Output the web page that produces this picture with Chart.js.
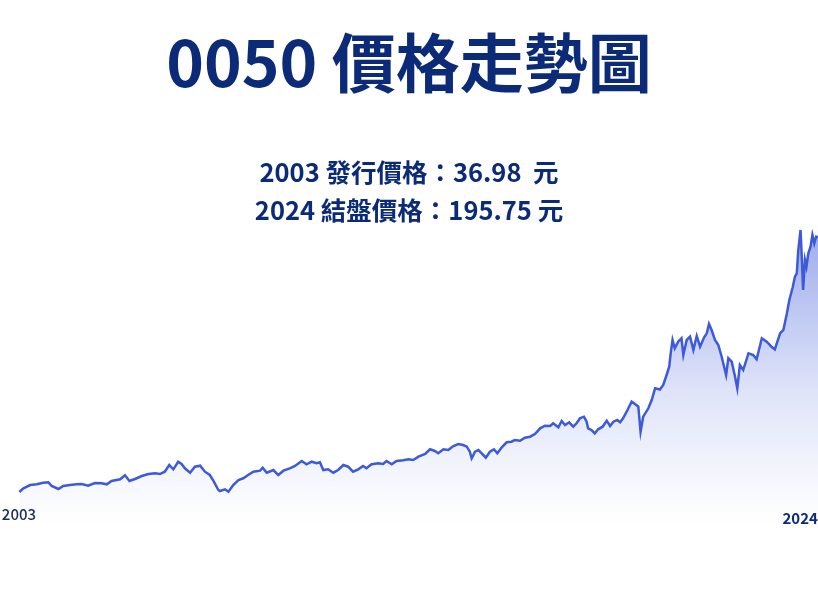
<!DOCTYPE html>
<html>
<meta charset="UTF-8">
<head>
    <title>0050 價格走勢圖</title>
    <script src="https://cdn.jsdelivr.net/npm/chart.js"></script>
    <style>
        html, body { margin: 0; padding: 0; background: #ffffff; }
        #wrap { width: 818px; height: 600px; }
    </style>
</head>
<body>
<div id="wrap"><canvas id="priceChart"></canvas></div>

<script>
    // 年份位置（小數年）與收盤價
    var years = [
        2003.01, 2003.12, 2003.30, 2003.48, 2003.65, 2003.79, 2003.88, 2004.06, 2004.19, 2004.37,
        2004.55, 2004.69, 2004.86, 2005.04, 2005.22, 2005.36, 2005.49, 2005.72, 2005.85, 2005.97,
        2006.12, 2006.30, 2006.48, 2006.66, 2006.79, 2006.92, 2007.04, 2007.15, 2007.28, 2007.37,
        2007.46, 2007.60, 2007.73, 2007.87, 2008.00, 2008.13, 2008.24, 2008.36, 2008.40, 2008.54,
        2008.63, 2008.76, 2008.90, 2009.03, 2009.16, 2009.30, 2009.48, 2009.55, 2009.66, 2009.84,
        2009.97, 2010.11, 2010.28, 2010.42, 2010.60, 2010.73, 2010.87, 2011.00, 2011.09, 2011.18,
        2011.31, 2011.45, 2011.58, 2011.72, 2011.85, 2011.98, 2012.12, 2012.25, 2012.34, 2012.48,
        2012.66, 2012.79, 2012.88, 2013.02, 2013.15, 2013.33, 2013.47, 2013.60, 2013.74, 2013.92,
        2014.05, 2014.18, 2014.27, 2014.41, 2014.54, 2014.68, 2014.81, 2014.94, 2015.04, 2015.12,
        2015.17, 2015.26, 2015.35, 2015.44, 2015.55, 2015.66, 2015.77, 2015.86, 2015.98, 2016.11,
        2016.24, 2016.33, 2016.47, 2016.60, 2016.74, 2016.87, 2017.01, 2017.14, 2017.28, 2017.36,
        2017.50, 2017.59, 2017.68, 2017.79, 2017.90, 2017.99, 2018.08, 2018.19, 2018.26, 2018.30,
        2018.39, 2018.48, 2018.57, 2018.69, 2018.80, 2018.89, 2018.98, 2019.08, 2019.16, 2019.24,
        2019.35, 2019.47, 2019.56, 2019.65, 2019.71, 2019.78, 2019.92, 2020.01, 2020.10, 2020.23,
        2020.32, 2020.41, 2020.48, 2020.52, 2020.57, 2020.63, 2020.72, 2020.81, 2020.86, 2020.95,
        2021.04, 2021.13, 2021.22, 2021.31, 2021.42, 2021.49, 2021.55, 2021.62, 2021.71, 2021.80,
        2021.89, 2022.01, 2022.07, 2022.16, 2022.25, 2022.31, 2022.38, 2022.47, 2022.61, 2022.74,
        2022.83, 2022.97, 2023.10, 2023.23, 2023.32, 2023.46, 2023.55, 2023.64, 2023.71, 2023.80,
        2023.86, 2023.91, 2023.95, 2024.01, 2024.04, 2024.08, 2024.13, 2024.17, 2024.22, 2024.28,
        2024.33, 2024.38, 2024.43, 2024.48
    ];
    var prices = [
        36.98, 39.29, 41.34, 41.78, 42.78, 43.03, 40.72, 38.85, 40.72, 41.34,
        41.78, 41.97, 40.91, 42.59, 42.40, 41.78, 43.84, 44.89, 47.38, 43.84,
        45.08, 46.95, 48.19, 48.63, 48.19, 49.63, 53.80, 51.12, 55.85, 54.42,
        51.74, 49.00, 52.74, 53.36, 49.63, 47.57, 43.40, 38.23, 37.61, 38.67,
        37.17, 41.34, 44.46, 45.52, 47.57, 49.63, 50.25, 52.12, 49.00, 50.68,
        47.57, 50.25, 51.74, 53.18, 56.29, 54.23, 55.85, 54.86, 55.48, 50.68,
        51.12, 49.00, 50.68, 53.80, 52.74, 49.63, 51.12, 53.18, 51.74, 54.23,
        54.86, 54.42, 56.29, 54.23, 56.29, 56.80, 57.35, 56.91, 58.97, 60.65,
        63.57, 62.52, 61.08, 63.57, 63.14, 65.63, 66.87, 66.25, 65.19, 62.08,
        57.97, 62.08, 63.14, 61.08, 58.34, 62.08, 63.57, 61.08, 64.82, 67.93,
        68.31, 69.36, 68.93, 70.80, 71.42, 73.10, 76.65, 78.27, 78.08, 79.76,
        77.27, 81.20, 78.70, 80.39, 77.65, 79.76, 82.88, 83.87, 80.76, 76.65,
        75.59, 73.54, 76.03, 77.65, 81.38, 78.08, 80.76, 81.82, 80.39, 82.88,
        87.61, 93.21, 91.78, 90.10, 74.53, 83.87, 89.10, 94.27, 101.56, 100.80,
        103.61, 109.84, 115.00, 123.35, 131.63, 126.46, 130.57, 132.69, 122.29, 131.63,
        133.69, 125.40, 134.20, 127.46, 133.31, 135.80, 141.59, 137.86, 131.63, 128.52,
        121.23, 109.84, 120.24, 118.12, 108.78, 101.56, 116.06, 112.95, 123.35, 122.29,
        119.61, 132.69, 130.57, 127.46, 125.84, 135.80, 137.86, 147.82, 156.54, 164.45,
        171.05, 173.16, 187.67, 200.12, 185.62, 162.76, 181.44, 177.27, 185.62, 189.73,
        197.01, 191.84, 195.95, 195.75
    ];
    var tickYears = [2003, 2024];

    var titleText = '0050 價格走勢圖';
    var subtitleLines = ['2003 發行價格：36.98  元', '2024 結盤價格：195.75 元'];

    var navy = '#0b2a78';
    var lineBlue = '#3d5ad8';
    var fontFamily = "'Noto Sans CJK TC', 'Noto Sans', sans-serif";

    var points = years.map(function (y, i) { return { x: y, y: prices[i] }; });

    // 由上而下漸層填色
    function areaGradient(context) {
        var chart = context.chart;
        var area = chart.chartArea;
        if (!area) return 'rgba(61,90,216,0.2)';
        var g = chart.ctx.createLinearGradient(0, area.top, 0, area.bottom);
        g.addColorStop(0, 'rgba(61,90,216,0.50)');
        g.addColorStop(0.5, 'rgba(61,90,216,0.17)');
        g.addColorStop(0.8, 'rgba(61,90,216,0.04)');
        g.addColorStop(0.92, 'rgba(61,90,216,0)');
        return g;
    }

    var ctx = document.getElementById('priceChart').getContext('2d');
    var chart = new Chart(ctx, {
        type: 'line',
        data: {
            datasets: [{
                label: '0050',
                data: points,
                borderColor: lineBlue,
                borderWidth: 2.5,
                pointRadius: 0,
                tension: 0,
                fill: 'origin',
                backgroundColor: areaGradient
            }]
        },
        options: {
            responsive: true,
            maintainAspectRatio: false,
            animation: false,
            layout: { padding: { left: 0, right: 0, top: 0, bottom: 48.6 } },
            plugins: {
                legend: { display: false },
                tooltip: { enabled: false },
                title: {
                    display: true,
                    text: titleText,
                    color: navy,
                    font: { family: fontFamily, size: 64, weight: 'bold', lineHeight: 1.2 },
                    padding: { top: 24, bottom: 52.1 }
                },
                subtitle: {
                    display: true,
                    text: subtitleLines,
                    color: navy,
                    font: { family: fontFamily, size: 25.5, weight: 'bold', lineHeight: 1.5 },
                    padding: { top: 0, bottom: 0 }
                }
            },
            scales: {
                x: {
                    type: 'linear',
                    min: 2002.49,
                    max: 2024.48,
                    position: { y: 28 },
                    grid: { display: false, drawTicks: false },
                    border: { display: false },
                    afterBuildTicks: function (scale) {
                        scale.ticks = tickYears.map(function (v) { return { value: v }; });
                    },
                    ticks: {
                        autoSkip: false,
                        maxRotation: 0,
                        padding: 0,
                        color: function (c) { return c.index === 0 ? '#1b2b57' : navy; },
                        font: function (c) {
                            return c.index === 0
                                ? { family: fontFamily, size: 15, weight: '500', lineHeight: 1 }
                                : { family: fontFamily, size: 15, weight: 'bold', lineHeight: 23 / 15 };
                        },
                        callback: function (value) { return String(value); }
                    }
                },
                y: {
                    display: false,
                    min: 0,
                    max: 200.5
                }
            }
        }
    });
</script>
</body>
</html>
